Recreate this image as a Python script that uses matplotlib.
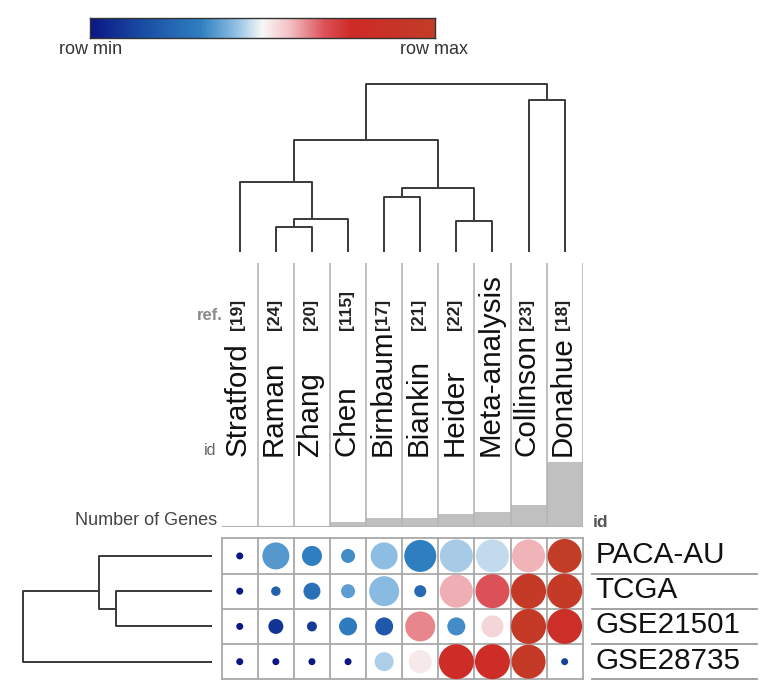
import numpy as np
import matplotlib.pyplot as plt
from matplotlib.colors import LinearSegmentedColormap

plt.rcParams['font.family'] = ['Liberation Sans', 'DejaVu Sans']

W, H = 775, 698
DPI = 100

studies = ['Stratford', 'Raman', 'Zhang', 'Chen', 'Birnbaum', 'Biankin',
           'Heider', 'Meta-analysis', 'Collinson', 'Donahue']
refs = ['[19]', '[24]', '[20]', '[115]', '[17]', '[21]', '[22]', '', '[23]', '[18]']
n_genes = [1.5, 1.5, 1.5, 5, 9.5, 9.5, 13, 15, 22.5, 65]
datasets = ['PACA-AU', 'TCGA', 'GSE21501', 'GSE28735']

# colour: 0 = row min, 1 = row max
color_val = np.array([
    [0.00, 0.36, 0.32, 0.34, 0.42, 0.32, 0.44, 0.46, 0.59, 1.00],
    [0.00, 0.22, 0.27, 0.37, 0.415, 0.25, 0.595, 0.68, 0.95, 0.95],
    [0.00, 0.08, 0.10, 0.31, 0.19, 0.63, 0.34, 0.55, 0.95, 0.82],
    [0.00, 0.00, 0.00, 0.00, 0.445, 0.52, 0.78, 0.78, 0.95, 0.12],
])
# dot diameter (pixels)
dot_size = np.array([
    [7, 27, 20, 14, 27, 32, 33, 33, 33, 34],
    [7, 9.5, 17, 14, 30, 12, 33, 34, 35, 35],
    [7, 15, 10, 18, 18, 30, 18, 22, 35, 35],
    [7, 7, 7, 7, 19, 23, 35, 35, 34, 7],
])

# linkage rows: (left node, right node, height)
col_links = [(1, 2, 25), (10, 3, 33), (0, 11, 70), (6, 7, 31), (4, 5, 55),
             (14, 13, 63.4), (12, 15, 111.7), (8, 9, 151.7), (16, 17, 167.4)]
row_links = [(1, 2, 96), (0, 4, 112.7), (5, 3, 189)]

cmap = LinearSegmentedColormap.from_list('rowscale', [
    (0.0, '#0b1785'), (0.15, '#1a4ca3'), (0.32, '#2f7fc0'), (0.42, '#8dbde2'),
    (0.5, '#f8f8f8'), (0.58, '#f3c0c4'), (0.68, '#dc5258'), (0.76, '#cf2a27'),
    (1.0, '#c23d27')])

LINE = '#3a3a3a'
GRID = '#a8a8a8'


def px_axes(fig, x0, y0, x1, y1):
    ax = fig.add_axes([x0 / W, 1 - y1 / H, (x1 - x0) / W, (y1 - y0) / H])
    ax.set_axis_off()
    return ax


# Dibuja un dendrograma; la posición de cada nodo es la media de sus hojas.
def draw_dendrogram(ax, links, n_leaves, orient):
    pos = {i: [i + 0.5] for i in range(n_leaves)}
    height = {i: 0 for i in range(n_leaves)}
    for k, (a, b, h) in enumerate(links):
        node = n_leaves + k
        pa, pb = np.mean(pos[a]), np.mean(pos[b])
        xs = [pa, pa, pb, pb]
        ys = [height[a], h, h, height[b]]
        if orient == 'top':
            ax.plot(xs, ys, color=LINE, lw=1.4, solid_capstyle='butt')
        else:
            ax.plot(ys, xs, color=LINE, lw=1.4, solid_capstyle='butt')
        pos[node] = pos[a] + pos[b]
        height[node] = h


fig = plt.figure(figsize=(W / DPI, H / DPI), dpi=DPI)

# colour bar
ax_cb = fig.add_axes([90 / W, 1 - 37.7 / H, 345 / W, 20 / H])
ax_cb.imshow(np.linspace(0, 1, 256)[None, :], cmap=cmap, aspect='auto')
ax_cb.set_xticks([])
ax_cb.set_yticks([])
for s in ax_cb.spines.values():
    s.set_color('#333333')
    s.set_linewidth(1.0)
fig.text(90.5 / W, 1 - 49 / H, 'row min', ha='center', va='center',
         fontsize=13, color='#333333')
fig.text(434 / W, 1 - 49 / H, 'row max', ha='center', va='center',
         fontsize=13, color='#333333')

# top dendrogram
ax_dt = px_axes(fig, 221.7, 80, 582.7, 251.7)
ax_dt.set_xlim(0, 10)
ax_dt.set_ylim(0, 171.7)
draw_dendrogram(ax_dt, col_links, len(studies), 'top')

# header with names and number of genes
ax_h = px_axes(fig, 221.7, 263, 582.7, 527)
ax_h.set_xlim(0, 10)
ax_h.set_ylim(0, 264)
ax_h.bar(np.arange(len(studies)) + 0.5, n_genes, width=1.0, color='#c0c0c0',
         edgecolor='none')
for i in range(1, len(studies) + 1):
    ax_h.plot([i, i], [0, 264], color='#b4b4b4', lw=1.2)
ax_h.plot([0, 10], [0, 0], color='#b4b4b4', lw=1.6)
for i, (name, ref) in enumerate(zip(studies, refs)):
    ax_h.text(i + 0.45, 71.5, name, rotation=90, ha='center', va='bottom',
              fontsize=21.3, color='#111111')
    if ref:
        ax_h.text(i + 0.45, 197, ref, rotation=90, ha='center', va='bottom',
                  fontsize=12.5, fontweight='bold', color='#222222')

fig.text(223 / W, 1 - 316 / H, 'ref.', ha='right', va='center',
         fontsize=12, fontweight='bold', color='#8a8a8a')
fig.text(216 / W, 1 - 455 / H, 'id', ha='right', va='baseline',
         fontsize=11.5, color='#666666')
fig.text(217 / W, 1 - 525 / H, 'Number of Genes', ha='right', va='baseline',
         fontsize=13, color='#444444')
fig.text(593 / W, 1 - 527 / H, 'id', ha='left', va='baseline',
         fontsize=12.5, fontweight='bold', color='#555555')

# bubble grid
ax_g = px_axes(fig, 221.7, 538.3, 582.7, 679.3)
ax_g.set_xlim(0, 10)
ax_g.set_ylim(4, 0)
for i in range(11):
    ax_g.plot([i, i], [0, 4], color=GRID, lw=1.3, clip_on=False)
for j in range(5):
    ax_g.plot([0, 10], [j, j], color=GRID, lw=1.3, clip_on=False)
xx, yy = np.meshgrid(np.arange(len(studies)) + 0.5, np.arange(len(datasets)) + 0.5)
ax_g.scatter(xx.ravel(), yy.ravel(), s=(dot_size.ravel() * 72 / DPI) ** 2,
             c=color_val.ravel(), cmap=cmap, vmin=0, vmax=1,
             edgecolors='none', zorder=3, clip_on=False)

# row labels
ax_r = px_axes(fig, 592, 538.3, 757, 679.3)
ax_r.set_xlim(0, 1)
ax_r.set_ylim(4, 0)
for j, name in enumerate(datasets):
    ax_r.text(0.02, j + 0.47, name, ha='left', va='center', fontsize=21.3,
              color='#111111')
    ax_r.plot([0, 1], [j + 1, j + 1], color='#9a9a9a', lw=1.3, clip_on=False)

# left dendrogram
ax_dl = px_axes(fig, 0, 538.3, 211.7, 679.3)
ax_dl.set_xlim(211.7, 0)
ax_dl.set_ylim(4, 0)
draw_dendrogram(ax_dl, row_links, len(datasets), 'left')

fig.savefig('out.png', dpi=DPI)
